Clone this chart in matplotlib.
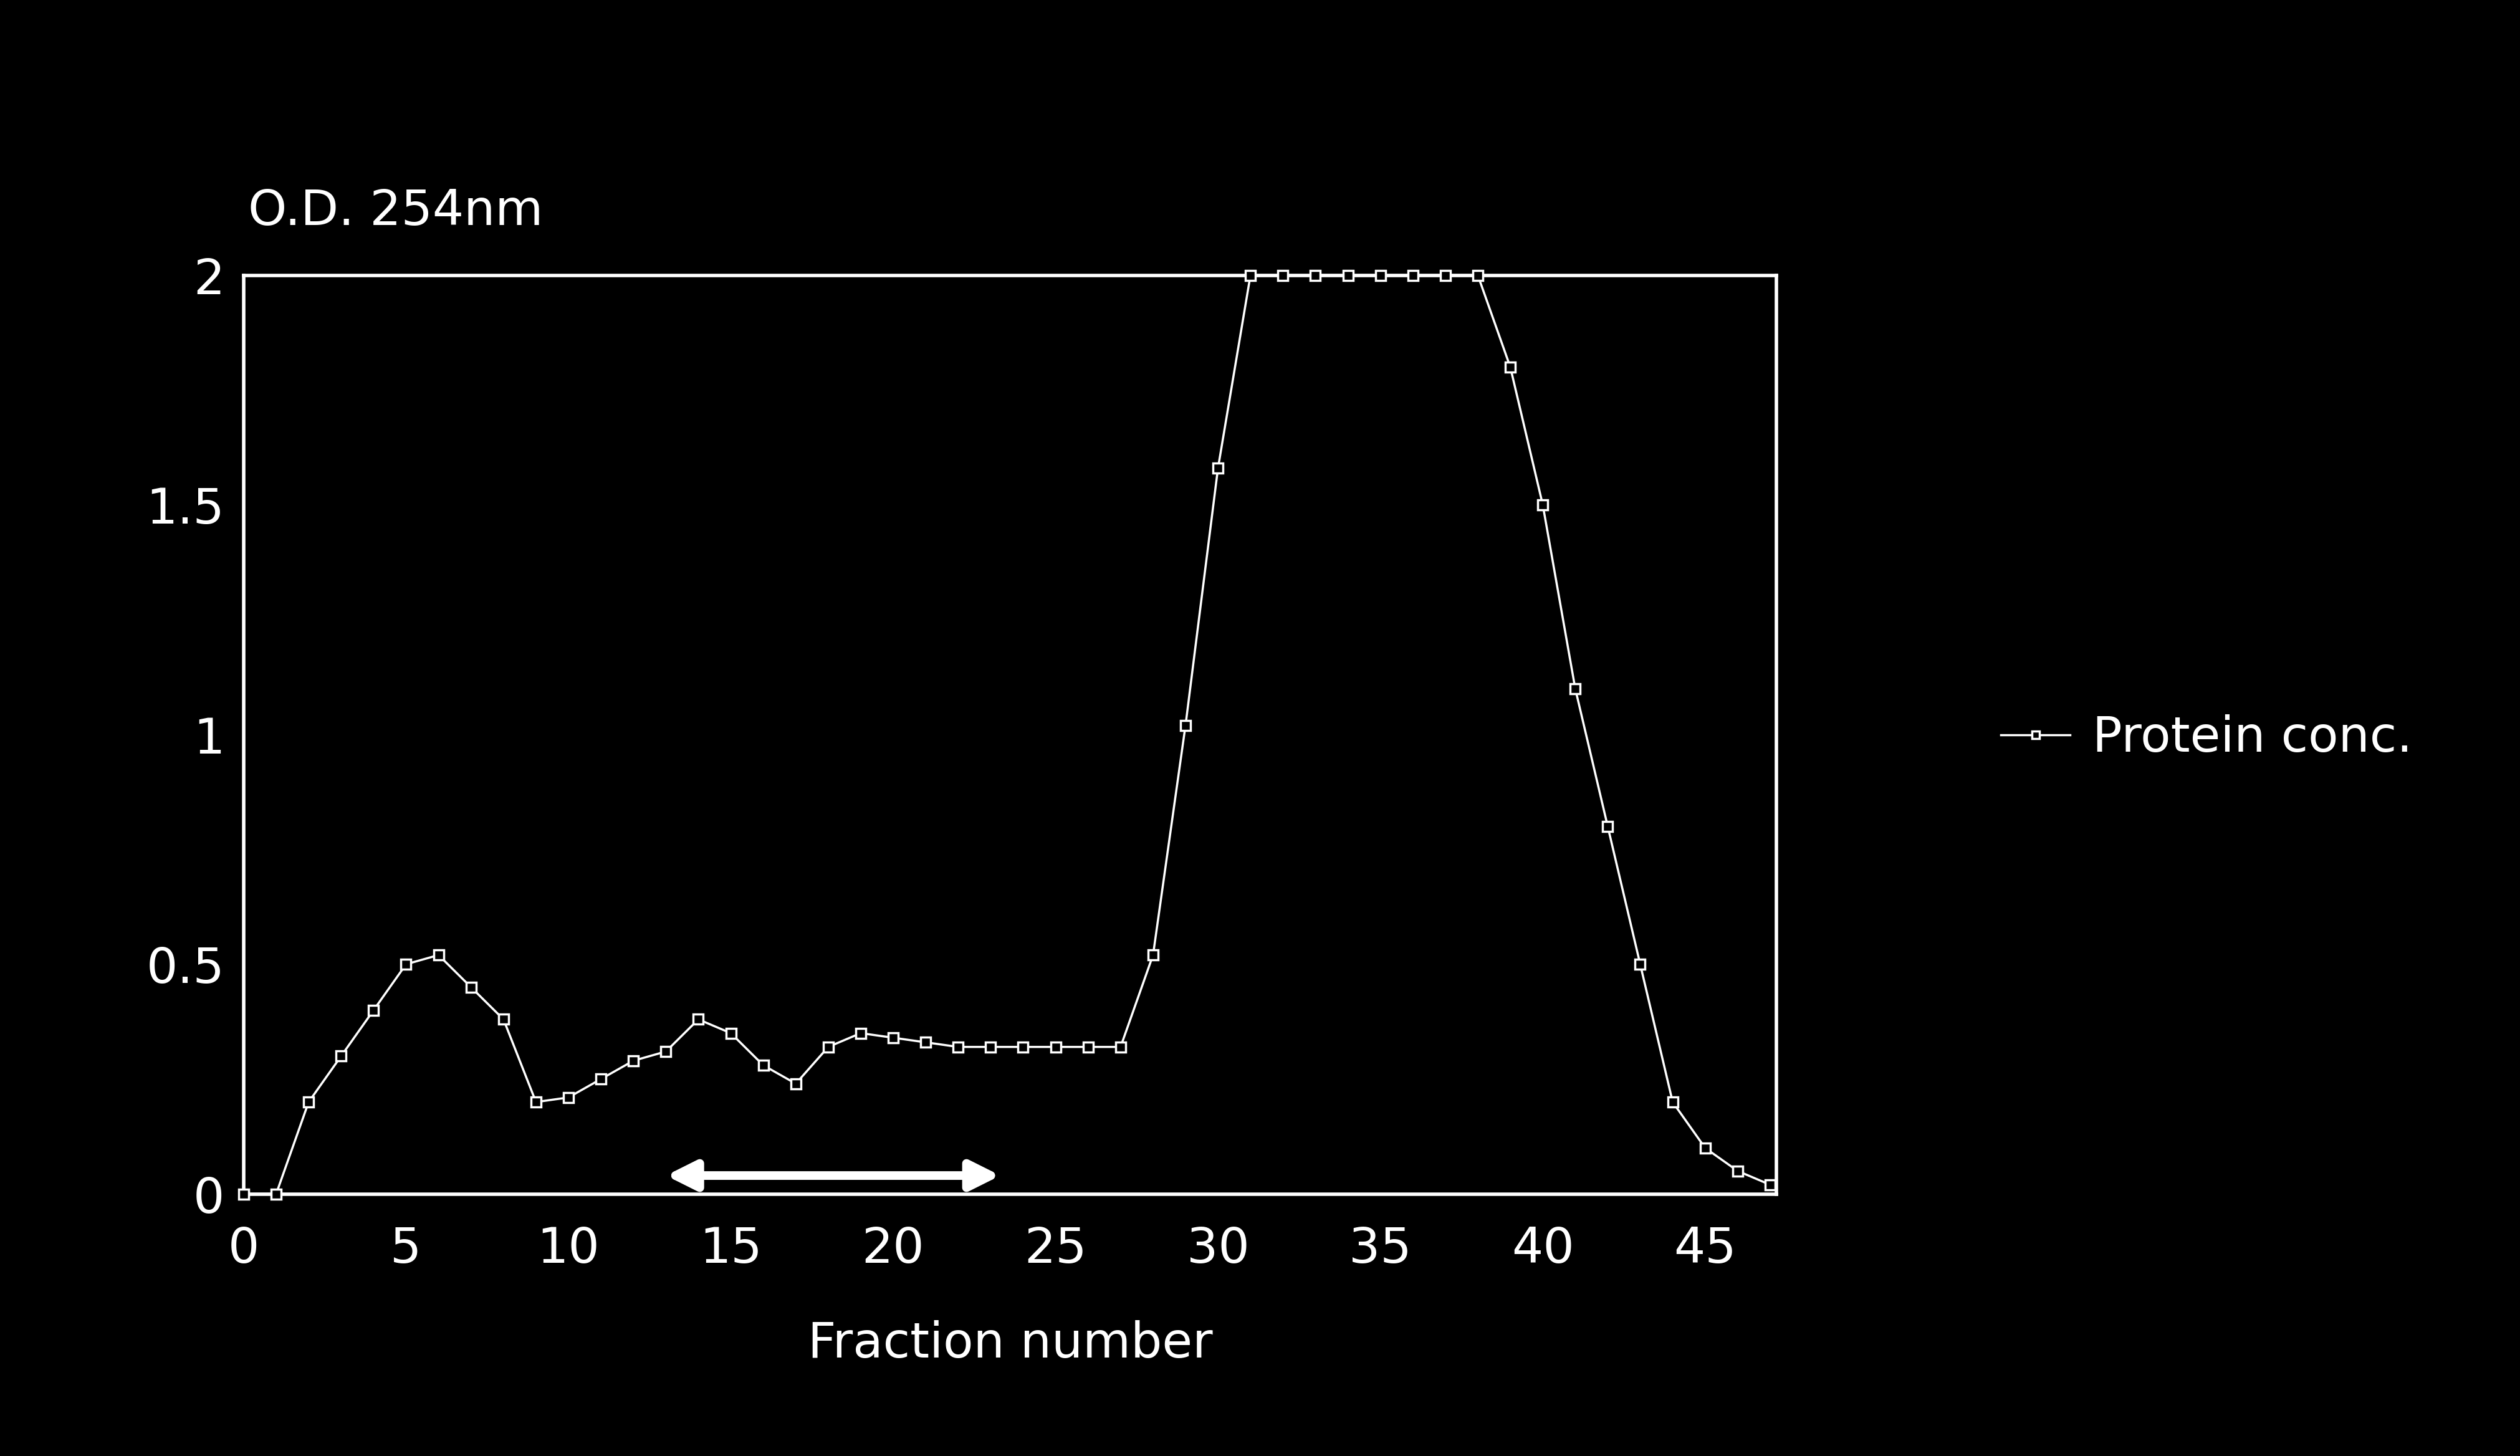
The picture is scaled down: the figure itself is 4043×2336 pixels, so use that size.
import matplotlib
matplotlib.use("Agg")
import matplotlib.pyplot as plt

fractions = list(range(0, 48))
od_254 = [0.0, 0.0, 0.20, 0.30, 0.40, 0.50, 0.52, 0.45, 0.38, 0.20,
          0.21, 0.25, 0.29, 0.31, 0.38, 0.35, 0.28, 0.24, 0.32, 0.35,
          0.34, 0.33, 0.32, 0.32, 0.32, 0.32, 0.32, 0.32, 0.52, 1.02,
          1.58, 2.0, 2.0, 2.0, 2.0, 2.0, 2.0, 2.0, 2.0, 1.80,
          1.50, 1.10, 0.80, 0.50, 0.20, 0.10, 0.05, 0.02]
series_label = "Protein conc."
x_ticks = [0, 5, 10, 15, 20, 25, 30, 35, 40, 45]
y_ticks = [0, 0.5, 1, 1.5, 2]
y_tick_labels = ["0", "0.5", "1", "1.5", "2"]
arrow_range = (13.0, 23.3)
arrow_y = 0.04

plt.rcParams['font.family'] = ['DejaVu Sans']
FS = 57

fig = plt.figure(figsize=(40.43, 23.36), dpi=100, facecolor='black')
ax = fig.add_axes([0.0967, 0.180, 0.6083, 0.631], facecolor='black')

ax.plot(fractions, od_254, color='white', lw=2.5, marker='s', markersize=11,
        markerfacecolor='black', markeredgecolor='white', markeredgewidth=2.5,
        clip_on=False, label=series_label, zorder=3)

ax.annotate('', xy=(arrow_range[1], arrow_y), xytext=(arrow_range[0], arrow_y),
            arrowprops=dict(arrowstyle='<|-|>', lw=10, color='white',
                            mutation_scale=70, shrinkA=0, shrinkB=0))

ax.set_xlim(0, 47.2)
ax.set_ylim(0, 2)
ax.set_xticks(x_ticks)
ax.set_xticklabels([str(t) for t in x_ticks])
ax.set_yticks(y_ticks)
ax.set_yticklabels(y_tick_labels)
ax.tick_params(axis='x', length=0, pad=36, labelsize=FS, colors='white')
ax.tick_params(axis='y', length=0, pad=22, labelsize=FS, colors='white')
for s in ax.spines.values():
    s.set_color('white')
    s.set_linewidth(4)

ax.set_xlabel("Fraction number", fontsize=FS, color='white', labelpad=55)
fig.text(398 / 4043, 1 - 339 / 2336, "O.D. 254nm", fontsize=FS, color='white',
         ha='left', va='center')

leg = ax.legend(loc='center left', bbox_to_anchor=(0.794, 0.493),
                bbox_transform=fig.transFigure, frameon=False, fontsize=FS,
                handlelength=1.4, handletextpad=0.45, borderpad=0,
                borderaxespad=0, markerscale=0.8)
for t in leg.get_texts():
    t.set_color('white')

fig.savefig("out.png", dpi=100, facecolor='black')
